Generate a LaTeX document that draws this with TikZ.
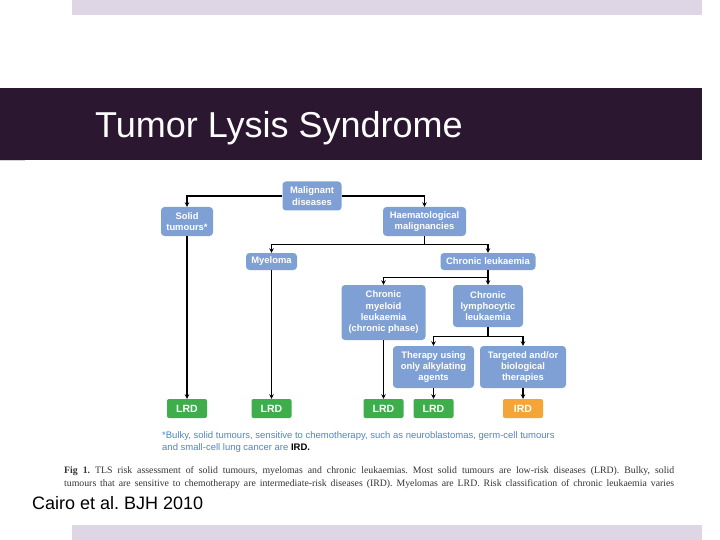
\documentclass[tikz,border=0pt]{standalone}
\usepackage{fontspec}
\setmainfont{Liberation Sans}
\newfontfamily\capfont{Liberation Serif}
\usepackage{tikz}
\usetikzlibrary{arrows.meta, positioning}
\frenchspacing

\definecolor{boxblue}{HTML}{7FA0D5}
\definecolor{lrdgreen}{HTML}{3DAE4B}
\definecolor{irdorange}{HTML}{F5A536}
\definecolor{notblue}{HTML}{4A88C4}
\definecolor{bandpurple}{HTML}{2C1730}
\definecolor{barlilac}{HTML}{DED6E4}

\begin{document}
\begin{tikzpicture}[x=1pt, y=-1pt,
  box/.style={rounded corners=3.5pt, fill=boxblue, text=white, align=center, inner sep=1pt, font=\fontsize{9.4}{11.3}\selectfont\bfseries},
  risk/.style={rounded corners=2pt, fill=#1, text=white, minimum width=40pt, minimum height=19pt, inner sep=0pt, font=\fontsize{10.5}{11}\selectfont\bfseries},
  arr/.style={-{Stealth[length=4.5pt, width=4.5pt]}, line width=1.3pt},
]

% Frame
\useasboundingbox (0,0) rectangle (720,540);
\fill[white] (0,0) rectangle (720,540);
\fill[barlilac] (72,0) rectangle (702,15);
\fill[barlilac] (72,525) rectangle (702,540);
\fill[bandpurple] (0,88) rectangle (702,160);
\draw[gray!35] (0,160.5) -- (25,160.5);
\node[anchor=base west, inner sep=0pt, text=white, font=\fontsize{36}{40}\selectfont] (title) at (95,137.5) {Tumor Lysis Syndrome};

% Boxes
\node[box, minimum width=59pt, minimum height=29pt] (mal) at (312,196) {Malignant\\diseases};
\node[box, minimum width=52pt, minimum height=29pt] (solid) at (187,221.5) {Solid\\tumours*};
\node[box, minimum width=83pt, minimum height=29pt] (haem) at (424.5,221.5) {Haematological\\malignancies};
\node[box, minimum width=51pt, minimum height=17pt] (myel) at (271.5,261.5) {Myeloma};
\node[box, minimum width=95pt, minimum height=17pt] (cl) at (488,261.5) {Chronic leukaemia};
\node[box, minimum width=84pt, minimum height=55pt] (cml) at (383.5,312.5) {Chronic\\myeloid\\leukaemia\\(chronic phase)};
\node[box, minimum width=70pt, minimum height=42pt] (cll) at (488,306) {Chronic\\lymphocytic\\leukaemia};
\node[box, minimum width=81pt, minimum height=42pt] (ther) at (433.5,367) {Therapy using\\only alkylating\\agents};
\node[box, minimum width=86pt, minimum height=42pt] (targ) at (523,367) {Targeted and/or\\biological\\therapies};

% Risk groups
\node[risk=lrdgreen] (lrd1) at (187,408.5) {LRD};
\node[risk=lrdgreen] (lrd2) at (271.5,408.5) {LRD};
\node[risk=lrdgreen] (lrd3) at (383.5,408.5) {LRD};
\node[risk=lrdgreen] (lrd4) at (433.5,408.5) {LRD};
\node[risk=irdorange] (ird) at (523,408.5) {IRD};

% Connectors
\draw[arr] (mal.west) -| (solid.north);
\draw[arr] (mal.east) -| (haem.north);
\draw[arr] (haem.south) -- ++(0,8) -| (myel.north);
\draw[arr] (haem.south) -- ++(0,8) -| (cl.north);
\draw[arr] (cl.south) -- ++(0,7) -| (cml.north);
\draw[arr] (cl.south) -- (cll.north);
\draw[arr] (cll.south) -- ++(0,9) -| (ther.north);
\draw[arr] (cll.south) -- ++(0,9) -| (targ.north);
\draw[arr] (solid) -- (lrd1);
\draw[arr] (myel) -- (lrd2);
\draw[arr] (cml) -- (lrd3);
\draw[arr] (ther) -- (lrd4);
\draw[arr] (targ) -- (ird);

% Notes
\node[anchor=base west, inner sep=0pt, text=notblue, font=\fontsize{9.5}{11}\selectfont] (note1) at (162,438) {*Bulky, solid tumours, sensitive to chemotherapy, such as neuroblastomas, germ-cell tumours};
\node[anchor=base west, inner sep=0pt, text=notblue, font=\fontsize{9.5}{11}\selectfont] (note2) at (162,450) {and small-cell lung cancer are \textcolor{black}{\bfseries IRD.}};
\node[anchor=base west, inner sep=0pt, text=black!80, font=\capfont\fontsize{9.8}{11}\selectfont] (cap1) at (64,473) {\makebox[610pt][s]{\textbf{Fig 1.} TLS risk assessment of solid tumours, myelomas and chronic leukaemias. Most solid tumours are low-risk diseases (LRD). Bulky, solid}};
\node[anchor=base west, inner sep=0pt, text=black!80, font=\capfont\fontsize{9.8}{11}\selectfont] (cap2) at (64,486) {\makebox[610pt][s]{tumours that are sensitive to chemotherapy are intermediate-risk diseases (IRD). Myelomas are LRD. Risk classification of chronic leukaemia varies}};
\node[anchor=base west, inner sep=0pt, font=\fontsize{18}{20}\selectfont] (cite) at (32,509.5) {Cairo et al. BJH 2010};

\end{tikzpicture}
\end{document}
